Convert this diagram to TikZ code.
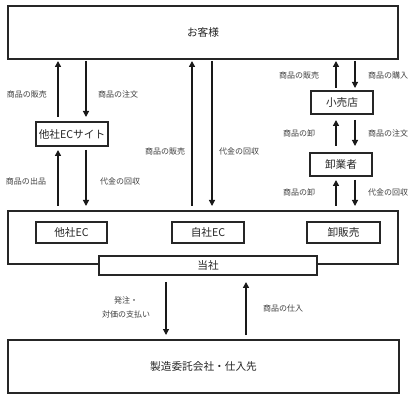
\documentclass[tikz,border=0pt]{standalone}
\usepackage{fontspec}
\setmainfont{Noto Sans CJK JP}
\usetikzlibrary{arrows.meta}
\begin{document}
\begin{tikzpicture}[x=0.75pt,y=-0.75pt,
  box/.style={draw=black!85,line width=0.8pt,fill=white,inner sep=0pt},
  boxtext/.style={font=\fontsize{8}{10}\selectfont,text=black!85},
  lbl/.style={font=\fontsize{6}{8}\selectfont,text=black!75,align=center,inner sep=0pt},
  uparr/.style={-{Triangle[length=4.5pt,width=4.5pt]},line width=1.2pt,black!90},
  dnarr/.style={-{Triangle[length=4.5pt,width=4.5pt]},line width=0.9pt,black!90}]
\useasboundingbox (0,0) rectangle (413,398);
% boxes
\draw[box] (8,6) rectangle (398,59);
\node[boxtext] (cust) at (203,32.5) {お客様};
\draw[box] (36,122) rectangle (108,146);
\node[boxtext] (ecsite) at (72,134) {他社ECサイト};
\draw[box] (311,91) rectangle (373,114);
\node[boxtext] (retail) at (342,102.5) {小売店};
\draw[box] (310,153) rectangle (372,176);
\node[boxtext] (whole) at (341,164.5) {卸業者};
\draw[box] (8,211) rectangle (398,264);
\draw[box] (36,222) rectangle (107,243);
\node[boxtext] (otherec) at (71.5,232.5) {他社EC};
\draw[box] (172,222) rectangle (244,243);
\node[boxtext] (ownec) at (208,232.5) {自社EC};
\draw[box] (307,222) rectangle (380,243);
\node[boxtext] (wsale) at (343.5,232.5) {卸販売};
\draw[box] (99,256) rectangle (317,275);
\node[boxtext] (company) at (208,265.5) {当社};
\draw[box] (8,340) rectangle (399,393);
\node[boxtext] (maker) at (203.5,366.5) {製造委託会社・仕入先};
% coordinates for arrow ends
\coordinate (a1s) at (58,117); \coordinate (a1e) at (58,61);
\coordinate (a2s) at (86,61); \coordinate (a2e) at (86,117);
\coordinate (a3s) at (58,206); \coordinate (a3e) at (58,150);
\coordinate (a4s) at (86,150); \coordinate (a4e) at (86,206);
\coordinate (m1s) at (192,206); \coordinate (m1e) at (192,61);
\coordinate (m2s) at (212,61); \coordinate (m2e) at (212,206);
\coordinate (r1s) at (336,88); \coordinate (r1e) at (336,61);
\coordinate (r2s) at (355,61); \coordinate (r2e) at (355,88);
\coordinate (r3s) at (336,146); \coordinate (r3e) at (336,120);
\coordinate (r4s) at (355,120); \coordinate (r4e) at (355,146);
\coordinate (r5s) at (336,206); \coordinate (r5e) at (336,180);
\coordinate (r6s) at (355,180); \coordinate (r6e) at (355,206);
\coordinate (b1s) at (166,282); \coordinate (b1e) at (166,335);
\coordinate (b2s) at (246,335); \coordinate (b2e) at (246,282);
% arrows
\draw[uparr] (a1s) -- (a1e);
\draw[dnarr] (a2s) -- (a2e);
\draw[uparr] (a3s) -- (a3e);
\draw[dnarr] (a4s) -- (a4e);
\draw[uparr] (m1s) -- (m1e);
\draw[dnarr] (m2s) -- (m2e);
\draw[uparr] (r1s) -- (r1e);
\draw[dnarr] (r2s) -- (r2e);
\draw[uparr] (r3s) -- (r3e);
\draw[dnarr] (r4s) -- (r4e);
\draw[uparr] (r5s) -- (r5e);
\draw[dnarr] (r6s) -- (r6e);
\draw[dnarr] (b1s) -- (b1e);
\draw[uparr] (b2s) -- (b2e);
% labels
\node[lbl] (l1) at (27,94) {商品の販売};
\node[lbl] (l2) at (118,94) {商品の注文};
\node[lbl] (l3) at (26,181) {商品の出品};
\node[lbl] (l4) at (120,181) {代金の回収};
\node[lbl] (l5) at (165,151) {商品の販売};
\node[lbl] (l6) at (239,151) {代金の回収};
\node[lbl] (l7) at (299,75) {商品の販売};
\node[lbl] (l8) at (388,75) {商品の購入};
\node[lbl] (l9) at (299,133) {商品の卸};
\node[lbl] (l10) at (388,133) {商品の注文};
\node[lbl] (l11) at (299,192) {商品の卸};
\node[lbl] (l12) at (388,192) {代金の回収};
\node[lbl] (l13) at (126,307.5) {発注・\\[2pt]対価の支払い};
\node[lbl] (l14) at (283,308) {商品の仕入};
\end{tikzpicture}
\end{document}
